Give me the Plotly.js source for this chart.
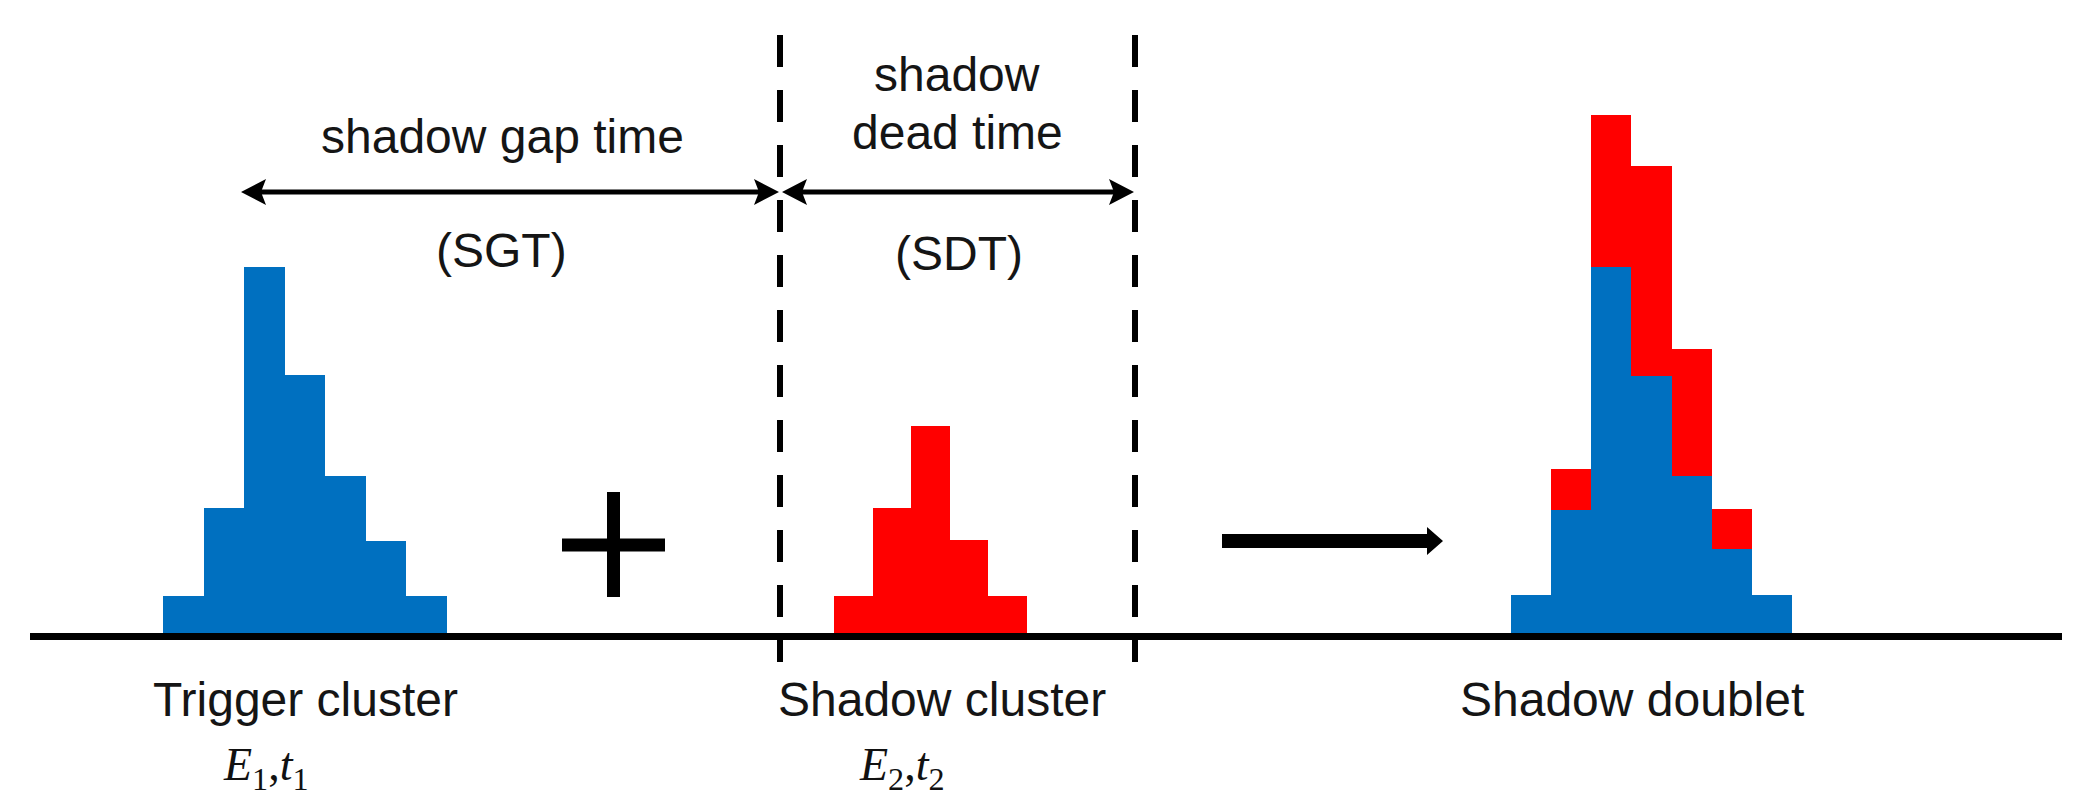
<!DOCTYPE html>
<html>
<head>
<meta charset="utf-8">
<script src="https://cdn.plot.ly/plotly-3.0.1.min.js"></script>
<style>html,body{margin:0;padding:0;background:#fff;}#chart{width:2099px;height:805px;}</style>
</head>
<body>
<div id="chart"></div>
<script>
// ---- data (bin index and bar heights, arbitrary units) ----
const triggerBins = [1, 2, 3, 4, 5, 6, 7];
const triggerCounts = [3.9, 12.7, 36.8, 26.0, 15.9, 9.4, 3.9];

const shadowBins = [1, 2, 3, 4, 5];
const shadowCounts = [3.9, 12.7, 20.9, 9.5, 3.9];

const doubletBins = [1, 2, 3, 4, 5, 6, 7];
const doubletTriggerPart = [4.0, 12.5, 36.8, 25.9, 15.9, 8.6, 4.0];
const doubletShadowPart = [0, 4.1, 15.2, 21.0, 12.7, 4.0, 0];

const labels = {
  gap: 'shadow gap time', sgt: '(SGT)',
  dead1: 'shadow', dead2: 'dead time', sdt: '(SDT)',
  trig: 'Trigger cluster', shad: 'Shadow cluster', doub: 'Shadow doublet',
  e1: '<i>E</i><sub>1</sub>,<i>t</i><sub>1</sub>',
  e2: '<i>E</i><sub>2</sub>,<i>t</i><sub>2</sub>'
};

const BLUE = '#0070C0', RED = '#FF0000';
const W = 2099, H = 805;
const X = p => p / W;
const Y = p => 1 - p / H;

const traces = [
  {type: 'bar', x: triggerBins, y: triggerCounts, xaxis: 'x', yaxis: 'y',
   marker: {color: BLUE, line: {width: 0}}, width: 1.0, hoverinfo: 'skip'},
  {type: 'bar', x: shadowBins, y: shadowCounts, xaxis: 'x2', yaxis: 'y',
   marker: {color: RED, line: {width: 0}}, width: 1.0, hoverinfo: 'skip'},
  {type: 'bar', x: doubletBins, y: doubletTriggerPart, xaxis: 'x3', yaxis: 'y',
   marker: {color: BLUE, line: {width: 0}}, width: 1.0, hoverinfo: 'skip'},
  {type: 'bar', x: doubletBins, y: doubletShadowPart, xaxis: 'x3', yaxis: 'y',
   marker: {color: RED, line: {width: 0}}, width: 1.0, hoverinfo: 'skip'}
];

const hidden = {visible: false, showgrid: false, zeroline: false, fixedrange: true};

function txt(text, x, y, size, family, color) {
  return {text: text, xref: 'paper', yref: 'paper', x: X(x), y: Y(y),
          xanchor: 'center', yanchor: 'middle', showarrow: false,
          font: {family: family || 'Liberation Sans, Arial, sans-serif', size: size || 48, color: color || '#151515'}};
}

const K = '#000';
const shapes = [
  // baseline
  {type: 'line', xref: 'paper', yref: 'paper', x0: X(30), x1: X(2062), y0: Y(636.5), y1: Y(636.5),
   line: {color: K, width: 7}, layer: 'above'},
  // dashed verticals
  {type: 'line', xref: 'paper', yref: 'paper', x0: X(780), x1: X(780), y0: Y(35), y1: Y(662),
   line: {color: K, width: 6, dash: '32px,23px'}, layer: 'above'},
  {type: 'line', xref: 'paper', yref: 'paper', x0: X(1135), x1: X(1135), y0: Y(35), y1: Y(662),
   line: {color: K, width: 6, dash: '32px,23px'}, layer: 'above'},
  // SGT arrow shaft
  {type: 'line', xref: 'paper', yref: 'paper', x0: X(258), x1: X(762), y0: Y(192), y1: Y(192),
   line: {color: K, width: 5}},
  // SGT heads
  {type: 'path', xref: 'paper', yref: 'paper', fillcolor: K, line: {width: 0},
   path: `M${X(241)},${Y(192)} L${X(266)},${Y(179)} L${X(261)},${Y(192)} L${X(266)},${Y(205)} Z`},
  {type: 'path', xref: 'paper', yref: 'paper', fillcolor: K, line: {width: 0},
   path: `M${X(779)},${Y(192)} L${X(754)},${Y(179)} L${X(759)},${Y(192)} L${X(754)},${Y(205)} Z`},
  // SDT arrow shaft
  {type: 'line', xref: 'paper', yref: 'paper', x0: X(798), x1: X(1118), y0: Y(192), y1: Y(192),
   line: {color: K, width: 5}},
  {type: 'path', xref: 'paper', yref: 'paper', fillcolor: K, line: {width: 0},
   path: `M${X(782)},${Y(192)} L${X(807)},${Y(179)} L${X(802)},${Y(192)} L${X(807)},${Y(205)} Z`},
  {type: 'path', xref: 'paper', yref: 'paper', fillcolor: K, line: {width: 0},
   path: `M${X(1134)},${Y(192)} L${X(1109)},${Y(179)} L${X(1114)},${Y(192)} L${X(1109)},${Y(205)} Z`},
  // plus sign
  {type: 'rect', xref: 'paper', yref: 'paper', x0: X(607), x1: X(620), y0: Y(492), y1: Y(597),
   fillcolor: K, line: {width: 0}},
  {type: 'rect', xref: 'paper', yref: 'paper', x0: X(562), x1: X(665), y0: Y(538.5), y1: Y(551.5),
   fillcolor: K, line: {width: 0}},
  // thick right arrow
  {type: 'path', xref: 'paper', yref: 'paper', fillcolor: K, line: {width: 0},
   path: `M${X(1222)},${Y(534)} L${X(1427)},${Y(534)} L${X(1427)},${Y(527)} L${X(1443)},${Y(541)} L${X(1427)},${Y(555)} L${X(1427)},${Y(548)} L${X(1222)},${Y(548)} Z`}
];

const serif = 'Liberation Serif, Times New Roman, serif';
const annotations = [
  txt(labels.gap, 502, 136),
  txt(labels.sgt, 501, 251),
  txt(labels.dead1, 957, 75),
  txt(labels.dead2, 957, 133),
  txt(labels.sdt, 959, 253),
  txt(labels.trig, 305, 699),
  txt(labels.shad, 942, 699),
  txt(labels.doub, 1632, 699),
  txt(labels.e1, 266, 768, 46, serif, '#111'),
  txt(labels.e2, 902, 768, 46, serif, '#111')
];

const layout = {
  width: W, height: H, autosize: false,
  margin: {l: 0, r: 0, t: 0, b: 0, pad: 0},
  paper_bgcolor: '#fff', plot_bgcolor: 'rgba(0,0,0,0)',
  showlegend: false, barmode: 'stack', bargap: 0,
  xaxis: Object.assign({domain: [X(163), X(447)], range: [0.5, 7.5], anchor: 'y'}, hidden),
  xaxis2: Object.assign({domain: [X(834), X(1027)], range: [0.5, 5.5], anchor: 'y'}, hidden),
  xaxis3: Object.assign({domain: [X(1511), X(1792)], range: [0.5, 7.5], anchor: 'y'}, hidden),
  yaxis: Object.assign({domain: [0, 1], range: [-17, 63.5], anchor: 'x'}, hidden),
  shapes: shapes,
  annotations: annotations
};

Plotly.newPlot('chart', traces, layout, {staticPlot: true, displayModeBar: false});
</script>
</body>
</html>
